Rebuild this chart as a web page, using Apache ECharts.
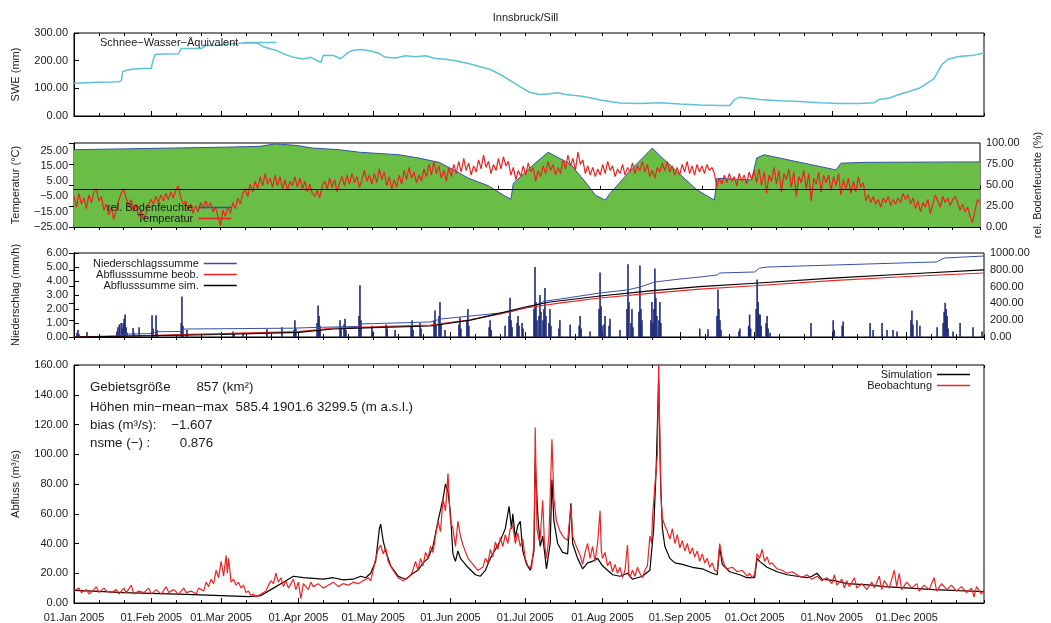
<!DOCTYPE html>
<html><head><meta charset="utf-8">
<script src="https://cdn.jsdelivr.net/npm/echarts@6/dist/echarts.min.js"></script>
<style>html,body{margin:0;padding:0;background:#fff}#c{width:1051px;height:623px}</style>
</head><body><div id="c"></div>
<script>
// ---------- DATA ----------
const monthNames = ['Jan','Feb','Mar','Apr','May','Jun','Jul','Aug','Sep','Oct','Nov','Dec'];
const monthStartDays = [0,31,59,90,120,151,181,212,243,273,304,334];
const swTitle = 'Innsbruck/Sill';

// Schnee-Wasser-Äquivalent (mm) [day of year, value]
const sweData = [[0,118],[5,120],[10,122],[15,123],[18,124],[19,128],[19.5,160],[21,165],[24,170],[28,172],[31,172],[31.5,195],[32.5,222],[36,224],[42,225],[43,244],[48,244],[51,244],[53,255],[58,256],[62,260],[67,263],[72,265],[74,262],[76,250],[79,242],[81,238],[84,225],[88,212],[92,206],[95,212],[99,193],[100,220],[104,219],[107,207],[110,230],[112,238],[115,240],[119,235],[122,228],[125,212],[129,210],[133,218],[137,214],[141,218],[145,208],[149,205],[153,200],[159,188],[163,178],[167,168],[171,150],[175,128],[179,105],[183,85],[187,78],[191,80],[194,84],[197,78],[203,72],[207,66],[211,58],[215,52],[219,47],[227,45],[235,48],[243,43],[251,40],[259,38],[263,38],[265,60],[267,68],[275,60],[283,55],[291,52],[299,48],[307,45],[315,45],[321,48],[323,60],[327,65],[331,78],[339,100],[345,135],[348,185],[350.5,205],[355,215],[361,220],[365,228]];

// rel. Bodenfeuchte (%)
const soilData = [[0,92],[20,93],[40,94],[60,95],[75,96],[81,99],[90,97],[96,94],[107,92],[115,89],[131,86],[139,82],[147,77],[153,68],[159,58],[167,49],[173,38],[176,33],[177,52],[185,74],[191,89],[200,75],[207,50],[210,38],[214,32],[216,40],[225,70],[233,94],[236,85],[251,44],[258,32],[259,58],[273,56],[275,82],[278,86],[307,68],[309,76],[320,77],[365,77.5]];

// Temperatur (°C), daily
const tempValues = [-5,-12,-3,-10,-6,-13,-4,-9,-2,0,-8,-5,-14,-10,-17,-12,-20,-14,-8,-3,0,-6,-11,-7,-15,-10,-18,-14,-20,-16,-10,-7,
-10,-5,-9,-4,-8,-3,-7,-2,-6,-1,2,-6,-10,-8,-14,-10,-16,-11,-15,-9,-13,-8,-12,-9,-15,-12,-18,-24,-14,-18,
-12,-16,-9,-13,-6,-10,-3,0,-5,3,-2,5,0,8,2,10,3,7,1,9,2,8,0,6,-1,5,2,8,1,
7,0,5,-2,3,-3,-5,-1,-6,2,5,0,7,1,6,-2,4,8,2,9,3,10,4,8,1,6,12,5,9,3,
10,4,13,6,11,2,8,0,6,1,9,3,12,6,14,7,11,4,9,5,13,8,16,9,18,10,15,7,12,5,
14,8,16,10,18,11,20,12,17,9,15,11,19,13,22,14,18,10,16,12,20,13,21,15,18,9,14,6,12,8,
15,9,17,11,14,5,12,8,15,10,18,12,16,9,14,10,19,13,22,15,20,12,24,16,19,10,15,9,14,8,13,
9,16,10,18,12,15,8,13,10,16,9,14,11,17,10,15,12,18,11,16,8,12,7,14,11,17,12,18,11,15,9,
14,9,16,11,18,10,15,9,16,11,15,10,16,12,14,10,1,7,3,9,4,10,5,8,2,10,5,9,3,11,
6,12,4,13,2,11,-3,9,5,14,3,12,-2,10,6,13,1,11,-5,8,4,12,0,10,-8,7,3,11,-2,9,4,
9,-1,8,2,10,-4,6,0,7,-3,5,-2,8,1,4,-8,-4,-9,-5,-10,-7,-12,-6,-9,-5,-11,-7,-10,-6,-9,
-3,-7,-4,-10,-6,-13,-8,-15,-9,-12,-7,-16,-10,-4,-8,-12,-5,-9,-6,-11,-7,-5,-9,-14,-10,-15,-12,-18,-22,-14,-7,-9];

// Niederschlag (mm/h)
const precipData = [[1.2,0.3],[1.6,0.5],[2.0,0.2],[5.2,0.35],[17.2,0.4],[17.6,0.7],[18.2,0.9],[18.9,1.0],[19.3,0.6],[19.7,1.0],[20.1,1.3],[20.5,1.6],[20.9,0.7],[21.3,0.3],[23.7,0.65],[24.1,0.3],[26.1,0.7],[31.3,1.55],[31.7,0.6],[32.9,1.55],[33.3,0.5],[43.0,1.0],[43.3,2.9],[43.7,0.8],[45.3,0.5],[63.8,0.4],[64.2,0.2],[67.8,0.3],[77.4,0.55],[83.4,0.7],[88.2,0.5],[88.6,1.2],[89.0,0.6],[97.5,1.0],[97.9,2.25],[98.3,1.5],[98.7,0.8],[106.7,1.2],[107.1,0.7],[108.3,0.9],[108.7,1.3],[109.1,0.5],[114.3,1.5],[114.7,3.7],[115.1,1.2],[119.5,0.8],[119.9,0.4],[125.2,0.9],[125.6,0.6],[128.8,0.5],[135.2,0.8],[135.6,1.2],[136,0.5],[138.8,1.0],[139.2,0.6],[144.4,1.2],[144.8,1.9],[145.2,0.8],[146.4,1.5],[146.8,2.5],[147.2,1.0],[148.8,0.5],[154.4,0.9],[154.8,1.4],[155.2,0.6],[157.6,1.2],[158,2.0],[158.4,0.8],[166.5,0.7],[166.9,1.2],[167.3,0.5],[172.9,0.8],[174.5,1.5],[174.9,2.8],[175.3,1.2],[175.7,0.7],[177.7,1.0],[178.1,1.5],[178.5,0.8],[179.7,1.0],[180.1,0.6],[184.5,2.0],[184.9,5.0],[185.3,2.5],[185.7,1.2],[186.5,1.5],[186.9,3.0],[187.3,1.8],[188.1,1.2],[188.5,2.0],[188.9,3.5],[189.3,1.5],[190.5,1.0],[190.9,2.0],[191.3,0.8],[194.5,0.6],[194.9,1.2],[199,0.9],[202.6,0.8],[203,1.5],[203.4,0.6],[207,0.4],[210.6,2.0],[211,4.6],[211.4,2.2],[211.8,0.8],[212.6,0.9],[213,1.5],[214.6,0.8],[215,1.3],[219,0.5],[221.8,2.0],[222.2,5.2],[222.6,2.5],[223.4,1.0],[223.8,2.0],[224.2,0.7],[226.6,1.8],[227,5.1],[227.4,2.0],[227.8,1.2],[231.4,1.2],[231.8,2.5],[232.2,1.0],[232.6,2.0],[233,4.9],[233.4,2.8],[233.8,1.5],[234.6,1.2],[235,2.5],[235.4,1.0],[251,0.6],[254.3,0.55],[257.9,1.5],[258.3,3.4],[258.7,2.0],[259.1,1.2],[259.5,0.5],[266.7,0.4],[267.1,0.6],[270.6,0.8],[271,1.6],[271.4,0.6],[273.6,2.0],[274,4.1],[274.4,2.5],[274.8,1.6],[275.2,1.6],[275.6,0.8],[277.6,1.0],[278,1.5],[278.4,0.6],[279.2,0.3],[295.6,1.0],[304.5,1.2],[304.9,0.5],[308.1,0.8],[308.5,1.1],[319.3,1.0],[320.5,0.5],[324.1,1.0],[326.1,0.5],[328.5,0.5],[330.1,0.4],[335.7,1.2],[336.1,1.9],[336.5,0.9],[338.1,1.2],[339.3,0.8],[346.2,0.7],[348.6,1.0],[349,1.8],[349.4,2.45],[349.8,2.0],[350.2,1.5],[350.6,0.6],[352.6,0.4],[355.4,1.0],[360.6,0.7],[364.2,0.4]];

// Summen (mm)
const precipSumData = [[0,0],[2,5],[18,10],[21,35],[31,40],[33,63],[43,66],[44,95],[88,105],[98,115],[104,119],[114,125],[115,155],[143,179],[147,214],[159,250],[175,298],[185,380],[189,428],[195,452],[211,524],[222,560],[227,595],[233,655],[243,690],[251,714],[258,738],[259,762],[273,774],[275,821],[278,833],[305,857],[336,885],[346,893],[349,940],[365,964]];
const runoffSumObsData = [[0,0],[31,20],[59,40],[90,65],[104,107],[120,120],[143,143],[159,205],[171,274],[181,345],[196,410],[211,464],[231,520],[251,571],[273,610],[304,670],[334,720],[365,762]];
const runoffSumSimData = [[0,0],[31,15],[59,30],[90,55],[104,95],[120,112],[143,131],[159,200],[171,285],[181,357],[191,417],[211,488],[231,548],[251,599],[273,640],[304,700],[334,750],[365,798]];

// Abfluss (m³/s)
const simData = [[0,8.5],[10,7.8],[20,7],[31,6.5],[45,5.8],[59,5],[70,4.3],[75,5],[80,10],[84,14],[86,16],[88,18],[92,17],[96,16.5],[100,16],[104,17],[108,15.5],[112,16],[115,18],[117,17],[119,20],[121,28],[122.5,50],[123,53],[124,42],[125,35],[127,25],[130,18],[133,16],[136,20],[138,22],[140,27],[142,30],[144,38],[146,55],[148,70],[149,80],[150,75],[151,60],[152,33],[153,28],[154,35],[155,30],[158,24],[161,19],[163,18],[165,22],[167,30],[169,36],[171,42],[173,50],[174.5,65],[175.5,50],[176,60],[177,44],[178,52],[179,55],[180,35],[181.5,26],[183,22],[184.5,35],[185,95],[186,60],[187,38],[188,45],[189.5,23],[191,40],[191.7,83],[192.5,55],[194,40],[196,34],[198,33],[199.3,67],[200,40],[202,30],[204,23],[206,27],[208,28],[210,30],[212,25],[214,22],[216,19],[219,18],[222,20],[224,16],[228,18],[231,22],[232.5,50],[233.5,90],[234.5,150],[235.3,80],[236,50],[237,38],[239,30],[241,27],[244,26],[248,24],[252,23],[256,20],[258,19],[259,38],[260,26],[263,21],[267,19],[270,17],[273,17],[274,30],[275,28],[278,24],[282,21],[286,19],[290,18],[294,17],[296,18],[298,20],[300,16],[305,15],[310,13],[315,12.5],[320,12],[325,11],[330,10.5],[335,10],[340,9.5],[345,9],[350,8.7],[355,8.3],[360,8],[365,7.7]];
const obsData = [[0,8],[2,10],[3,7],[5,9],[6,6],[8,9],[9,11],[10,7],[12,10],[13,8],[15,7],[17,9],[18,6],[20,10],[21,7],[23,12],[24,6],[26,8],[28,7],[30,10],[31,6],[33,9],[35,6],[37,11],[38,7],[40,9],[42,6],[44,10],[45,7],[47,8],[49,6],[50,10],[52,8],[53,14],[54,11],[55,16],[56,13],[57,22],[58,17],[59,28],[60,18],[61,32],[61.5,20],[62,30],[63,14],[64,16],[65,12],[66,14],[67,10],[68,12],[69,7],[70,8],[71,5],[72,6],[73,4],[75,6],[77,8],[78,12],[79,15],[80,13],[81,20],[82,14],[83,17],[84,11],[85,15],[86,10],[87,13],[88,16],[89,9],[90,14],[91,3],[92,13],[94,9],[95,14],[96,11],[98,13],[100,10],[102,12],[104,14],[106,11],[108,13],[110,12],[112,14],[114,13],[116,15],[118,17],[119,15],[120,22],[121,30],[122,36],[123,39],[124,33],[125,37],[126,28],[128,22],[130,17],[132,15],[134,17],[135.5,20],[137,28],[138,22],[139,30],[140,25],[141,34],[142,30],[143,38],[144,34],[145,45],[146,55],[147,48],[148,70],[149,62],[150,87],[151,55],[152,50],[153,38],[154,55],[155,45],[156,39],[158,30],[160,26],[162,22],[164,24],[165,30],[166,27],[167,36],[168,31],[169,41],[170,36],[171,44],[172,38],[173,46],[174,40],[175,50],[176,52],[177,40],[178,47],[179,38],[180,43],[181,30],[182,25],[183.5,23],[184.5,40],[185,118],[185.7,50],[186.5,42],[187,44],[188,69],[188.7,40],[189.5,30],[190.5,45],[191.7,110],[192.5,70],[193.5,55],[195,48],[196.5,44],[198,42],[199.3,65],[200,45],[201,40],[203,32],[204,26],[205,34],[206,40],[207,30],[208,38],[209,28],[210,40],[211,62],[211.5,35],[212,30],[213,34],[214,25],[215,28],[216,21],[217,26],[218,20],[219,24],[220,17],[221,22],[222,39],[222.5,20],[223,17],[224,22],[225,18],[226,24],[227,20],[228,17],[229,22],[230,25],[231,45],[231.7,40],[232,57],[233,79],[234,100],[234.5,162],[235,110],[235.5,70],[236,57],[237,52],[238,48],[239,43],[240,50],[241,40],[242,46],[243,37],[244,42],[245,35],[246,40],[247,33],[248,37],[249,31],[250,35],[251,28],[252,33],[253,27],[254,30],[255,24],[256,27],[257,22],[258,21],[259,40],[260,30],[261,25],[262,23],[264,24],[266,21],[268,22],[270,18],[271,20],[272,17],[273,19],[274,33],[275,30],[276,36],[277,28],[278,31],[279,26],[280,27],[282,23],[284,22],[286,20],[288,21],[290,19],[292,17],[294,19],[296,16],[298,18],[300,15],[302,17],[304,13],[305,19],[306,12],[308,16],[309,10],[310,15],[311,11],[313,17],[314,10],[316,13],[318,9],[320,14],[321,10],[323,18],[324,9],[325,15],[327,10],[329,22],[330,11],[331,20],[332,9],[334,14],[336,10],[338,13],[339,8],[341,12],[343,9],[345,17],[346,8],[348,13],[350,9],[352,12],[354,8],[356,11],[358,7],[360,10],[361,4],[362,11],[364,6],[365,9]];

const infoLines = ['Gebietsgröße       857 (km²)','Höhen min\u2212mean\u2212max  585.4 1901.6 3299.5 (m a.s.l.)','bias (m³/s):    \u22121.607','nsme (\u2212) :        0.876'];

// ---------- CHART ----------
const FONT = "'Liberation Sans', Arial, sans-serif";
const TXT = '#1a1a1a';
const tempData = tempValues.map((v, i) => [i, v]);
const tickDays = [];
monthStartDays.forEach(d => { tickDays.push(d, d + 10, d + 20); });
tickDays.push(365);
const fmtNum = v => (v < 0 ? '\u2212' : '') + Math.abs(v).toFixed(2);
const fmtDay = v => { const i = monthStartDays.indexOf(Math.round(v)); return i < 0 ? '' : '01.' + monthNames[i] + ' 2005'; };

const grids = [
  {top: 33, height: 83}, {top: 143, height: 84}, {top: 253, height: 84}, {top: 365, height: 240}
].map(g => Object.assign({left: 74, right: 67, show: true, borderColor: '#000', borderWidth: 1, containLabel: false}, g));

const xAxes = [];
grids.forEach((g, gi) => {
  xAxes.push({type: 'value', gridIndex: gi, min: 0, max: 365, position: 'bottom',
    axisLine: {show: true, onZero: false, lineStyle: {color: '#000', width: 1}},
    axisTick: {show: true, inside: true, length: 5, customValues: monthStartDays, lineStyle: {color: '#000'}},
    axisLabel: {show: gi === 3, customValues: monthStartDays, formatter: fmtDay, fontSize: 11, color: TXT, fontFamily: FONT, margin: 9},
    splitLine: {show: false}});
  xAxes.push({type: 'value', gridIndex: gi, min: 0, max: 365, position: 'bottom',
    axisLine: {show: false}, axisLabel: {show: false}, splitLine: {show: false},
    axisTick: {show: true, inside: true, length: 3, customValues: tickDays, lineStyle: {color: '#000'}}});
  xAxes.push({type: 'value', gridIndex: gi, min: 0, max: 365, position: 'top',
    axisLine: {show: false}, axisLabel: {show: false}, splitLine: {show: false},
    axisTick: {show: true, inside: true, length: 3, customValues: tickDays, lineStyle: {color: '#000'}}});
});

function yAx(gi, pos, min, max, interval, name, nameGap, labelVals) {
  const a = {type: 'value', gridIndex: gi, position: pos, min, max, interval,
    axisLine: {show: true, lineStyle: {color: '#000'}},
    axisTick: {show: true, inside: true, length: 5, lineStyle: {color: '#000'}},
    axisLabel: {formatter: fmtNum, fontSize: 11, color: TXT, fontFamily: FONT, margin: 6},
    splitLine: {show: false},
    name, nameLocation: 'middle', nameGap, nameRotate: 90,
    nameTextStyle: {fontSize: 11, color: TXT, fontFamily: FONT}};
  if (labelVals) { a.axisLabel.customValues = labelVals; a.axisTick.customValues = labelVals; }
  return a;
}
const yAxes = [
  yAx(0, 'left', 0, 300, 100, 'SWE (mm)', 53),
  yAx(1, 'left', -25, 30, 10, 'Temperatur (°C)', 53, [-25,-15,-5,5,15,25]),
  yAx(1, 'right', 0, 100, 25, 'rel. Bodenfeuchte (%)', 52),
  yAx(2, 'left', 0, 6, 1, 'Niederschlag (mm/h)', 53),
  yAx(2, 'right', 0, 1000, 200, '', 50),
  yAx(3, 'left', 0, 160, 20, 'Abfluss (m³/s)', 53)
];

const lineS = (name, xi, yi, data, color, width, extra) => Object.assign({
  name, type: 'line', xAxisIndex: xi, yAxisIndex: yi, data, showSymbol: false, symbol: 'none',
  color, lineStyle: {color, width}, itemStyle: {color}, animation: false, z: 3
}, extra || {});

const series = [
  lineS('Schnee\u2212Wasser\u2212Äquivalent', 0, 0, sweData, '#5cc3d6', 1.5),
  lineS('rel. Bodenfeuchte', 3, 2, soilData, '#3553a4', 1, {areaStyle: {color: '#6abd45', opacity: 1}, z: 2}),
  lineS('Temperatur', 3, 1, tempData, '#ee2222', 1.2, {
    markLine: {silent: true, symbol: 'none', label: {show: false}, lineStyle: {color: '#000', width: 1, type: 'solid'}, data: [{yAxis: 0}], animation: false}}),
  {name: 'Niederschlag', type: 'bar', xAxisIndex: 6, yAxisIndex: 3, data: precipData, barWidth: 1.6, itemStyle: {color: '#1e2a7a'}, animation: false},
  lineS('Niederschlagssumme', 6, 4, precipSumData, '#3650a8', 1),
  lineS('Abflusssumme beob.', 6, 4, runoffSumObsData, '#ee2222', 1.2),
  lineS('Abflusssumme sim.', 6, 4, runoffSumSimData, '#000000', 1.2),
  lineS('Simulation', 9, 5, simData, '#000000', 1.2),
  lineS('Beobachtung', 9, 5, obsData, '#ee2222', 1.2, {z: 4})
];

const legBase = {orient: 'vertical', align: 'right', icon: 'rect', itemWidth: 33, itemHeight: 1.5, itemGap: 0, padding: 0,
  selectedMode: false, textStyle: {fontSize: 11, color: TXT, fontFamily: FONT, lineHeight: 11, padding: [0,0,0,0]}};
const legends = [
  Object.assign({}, legBase, {data: ['Schnee\u2212Wasser\u2212Äquivalent'], left: 100, top: 37}),
  Object.assign({}, legBase, {data: ['rel. Bodenfeuchte', 'Temperatur'], left: 107, top: 202}),
  Object.assign({}, legBase, {data: ['Niederschlagssumme', 'Abflusssumme beob.', 'Abflusssumme sim.'], left: 93, top: 258}),
  Object.assign({}, legBase, {data: ['Simulation', 'Beobachtung'], right: 81, top: 369})
];

const infoY = [387, 407, 425, 443];
const graphic = infoLines.map((t, i) => ({type: 'text', left: 90, top: infoY[i] - 6, z: 10,
  style: {text: t, font: "13.3px 'Liberation Sans', Arial, sans-serif", fill: TXT}}));

const chart = echarts.init(document.getElementById('c'), null, {renderer: 'canvas'});
chart.setOption({
  backgroundColor: '#fff',
  animation: false,
  title: {text: swTitle, left: 'center', top: 7, textStyle: {fontSize: 11, fontWeight: 'normal', color: TXT, fontFamily: FONT}},
  grid: grids, xAxis: xAxes, yAxis: yAxes, series, legend: legends, graphic
});
</script></body></html>
